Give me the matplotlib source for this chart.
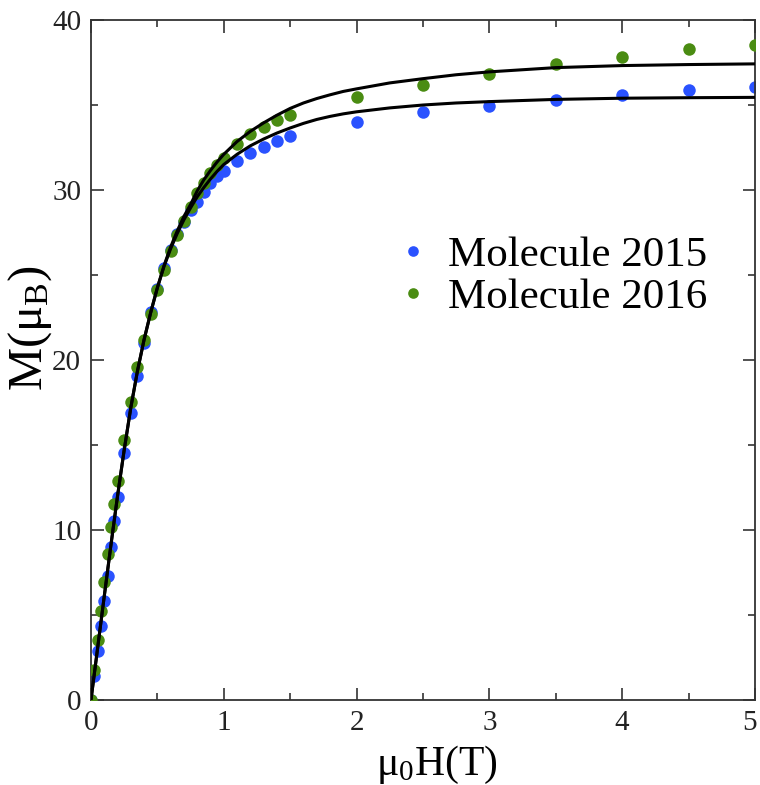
import matplotlib
matplotlib.use("Agg")
import matplotlib.pyplot as plt
import matplotlib.transforms as mtransforms
from matplotlib.ticker import MultipleLocator

# ---- data ----
field_2015 = [0, 0.025, 0.05, 0.075, 0.1, 0.125, 0.15, 0.175, 0.2, 0.25, 0.3, 0.35, 0.4,
              0.45, 0.5, 0.55, 0.6, 0.65, 0.7, 0.75, 0.8, 0.85, 0.9, 0.95, 1.0,
              1.1, 1.2, 1.3, 1.4, 1.5, 2.0, 2.5, 3.0, 3.5, 4.0, 4.5, 5.0]
m_2015 = [0, 1.4, 2.9, 4.35, 5.8, 7.3, 9.0, 10.5, 11.95, 14.5, 16.9, 19.06, 21.0,
          22.8, 24.2, 25.4, 26.5, 27.4, 28.1, 28.8, 29.3, 29.9, 30.4, 30.8, 31.1,
          31.7, 32.2, 32.55, 32.9, 33.2, 34.0, 34.6, 34.96, 35.3, 35.6, 35.9, 36.05]

field_2016 = [0, 0.025, 0.05, 0.075, 0.1, 0.125, 0.15, 0.175, 0.2, 0.25, 0.3, 0.35, 0.4,
              0.45, 0.5, 0.55, 0.6, 0.65, 0.7, 0.75, 0.8, 0.85, 0.9, 0.95, 1.0,
              1.1, 1.2, 1.3, 1.4, 1.5, 2.0, 2.5, 3.0, 3.5, 4.0, 4.5, 5.0]
m_2016 = [0, 1.76, 3.5, 5.25, 6.96, 8.6, 10.2, 11.55, 12.9, 15.3, 17.5, 19.57, 21.2,
          22.7, 24.1, 25.3, 26.4, 27.35, 28.2, 29.0, 29.8, 30.4, 31.0, 31.5, 31.9,
          32.7, 33.3, 33.7, 34.1, 34.4, 35.5, 36.2, 36.8, 37.4, 37.8, 38.3, 38.55]

fit_field = [0, 0.05, 0.1, 0.15, 0.2, 0.25, 0.3, 0.35, 0.4, 0.45, 0.5, 0.55, 0.6, 0.65,
             0.7, 0.75, 0.8, 0.85, 0.9, 0.95, 1.0, 1.1, 1.2, 1.3, 1.4, 1.5, 1.6, 1.7,
             1.8, 1.9, 2.0, 2.25, 2.5, 2.75, 3.0, 3.5, 4.0, 4.5, 5.0]
fit_2015 = [0, 3.05, 6.1, 9.1, 12.0, 14.7, 17.2, 19.35, 21.2, 22.8, 24.25, 25.5, 26.55, 27.45,
            28.25, 28.95, 29.6, 30.15, 30.65, 31.1, 31.5, 32.1, 32.6, 33.0, 33.35, 33.65,
            33.92, 34.15, 34.33, 34.48, 34.6, 34.83, 35.0, 35.12, 35.2, 35.33, 35.4, 35.43,
            35.45]
fit_2016 = [0, 3.05, 6.1, 9.1, 12.0, 14.7, 17.2, 19.35, 21.2, 22.8, 24.25, 25.55, 26.65, 27.6,
            28.45, 29.15, 29.95, 30.6, 31.15, 31.65, 32.1, 32.85, 33.45, 33.95, 34.4, 34.8,
            35.12, 35.38, 35.6, 35.8, 35.95, 36.3, 36.55, 36.78, 36.95, 37.2, 37.32, 37.38,
            37.42]

labels = ["Molecule 2015", "Molecule 2016"]
x_ticks = [0, 1, 2, 3, 4, 5]
y_ticks = [0, 10, 20, 30, 40]

plt.rcParams['font.family'] = ['Liberation Serif', 'DejaVu Serif']
plt.rcParams['mathtext.fontset'] = 'custom'
plt.rcParams['mathtext.rm'] = 'Liberation Serif'
plt.rcParams['mathtext.it'] = 'Liberation Serif:italic'

fig = plt.figure(figsize=(7.6, 7.85), dpi=100)
ax = fig.add_axes([0.1197, 0.1083, 0.8737, 0.8662])

blue = '#2a52ff'
green = '#4a8c12'
ax.plot(field_2015, m_2015, 'o', color=blue, ms=9, mec='none', label=labels[0], zorder=2)
ax.plot(field_2016, m_2016, 'o', color=green, ms=9, mec='none', label=labels[1], zorder=3)
ax.plot(fit_field, fit_2015, '-', color='black', lw=2.2, zorder=4, solid_joinstyle='round')
ax.plot(fit_field, fit_2016, '-', color='black', lw=2.2, zorder=4, solid_joinstyle='round')

ax.set_xlim(0, 5)
ax.set_ylim(0, 40)
ax.set_xticks(x_ticks)
ax.set_yticks(y_ticks)
ax.xaxis.set_minor_locator(MultipleLocator(0.5))
ax.yaxis.set_minor_locator(MultipleLocator(5))
ax.tick_params(which='both', direction='in', top=True, right=True, labelsize=21,
               colors='#222222', pad=7)
ax.tick_params(which='major', length=9, width=1.1)
ax.tick_params(which='minor', length=5, width=1.1)
for s in ax.spines.values():
    s.set_linewidth(1.3)
    s.set_color('#333333')

# nudge the last x tick label so it stays inside the canvas
last = ax.get_xticklabels()[-1]
last.set_transform(last.get_transform() +
                   mtransforms.ScaledTranslation(-4 / 72, 0, fig.dpi_scale_trans))

ax.set_xlabel(r'$\mathrm{\mu_0}$H(T)', fontsize=30)
ax.set_ylabel(r'M($\mathrm{\mu_B}$)', fontsize=35)
ax.xaxis.set_label_coords(0.521, -0.064)
ax.xaxis.label.set_va('top')
ax.yaxis.set_label_coords(-0.056, 0.547)

leg = ax.legend(loc='center left', bbox_to_anchor=(0.465, 0.623), frameon=False,
                fontsize=31, markerscale=0.85, handlelength=0.6, handletextpad=0.53,
                labelspacing=0.05, borderpad=0, borderaxespad=0)

fig.savefig('out.png', dpi=100)
